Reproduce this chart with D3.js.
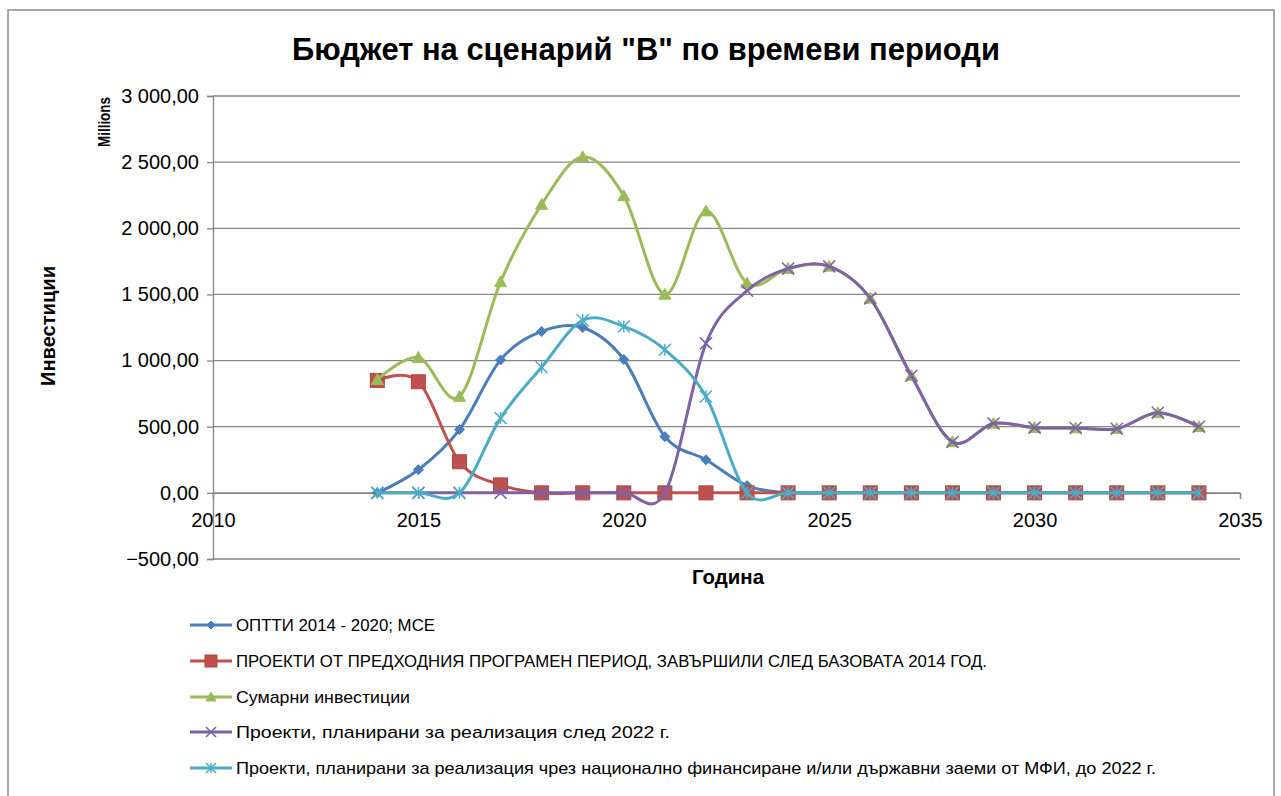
<!DOCTYPE html>
<html>
<head>
<meta charset="utf-8">
<script src="https://cdn.jsdelivr.net/npm/d3@7"></script>
<style>
  body { margin: 0; background: #fff; }
  svg text { font-family: "Liberation Sans", "DejaVu Sans", sans-serif; }
</style>
</head>
<body>
<div class="chart"></div>
<script>
// Data
var years = [2014, 2015, 2016, 2017, 2018, 2019, 2020, 2021, 2022, 2023, 2024, 2025, 2026, 2027, 2028, 2029, 2030, 2031, 2032, 2033, 2034];
var opttiValues   = [0, 175, 478, 1005, 1220, 1250, 1008, 425, 250, 55, 0, 0, 0, 0, 0, 0, 0, 0, 0, 0, 0];
var prevValues    = [850, 840, 235, 60, 0, 0, 0, 0, 0, 0, 0, 0, 0, 0, 0, 0, 0, 0, 0, 0, 0];
var totalValues   = [855, 1023, 728, 1595, 2180, 2540, 2245, 1500, 2130, 1585, 1695, 1712, 1470, 885, 385, 525, 493, 490, 485, 605, 500];
var after22Values = [0, 0, 0, 0, 0, 0, 0, 0, 1130, 1528, 1695, 1712, 1470, 885, 385, 525, 493, 490, 485, 605, 500];
var natValues     = [0, 0, 0, 565, 950, 1305, 1258, 1082, 728, 0, 0, 0, 0, 0, 0, 0, 0, 0, 0, 0, 0];
var seriesNames = [
  "ОПТТИ 2014 - 2020; МСЕ",
  "ПРОЕКТИ ОТ ПРЕДХОДНИЯ ПРОГРАМЕН ПЕРИОД, ЗАВЪРШИЛИ СЛЕД БАЗОВАТА 2014 ГОД.",
  "Сумарни инвестиции",
  "Проекти, планирани за реализация след 2022 г.",
  "Проекти, планирани за реализация чрез национално финансиране и/или държавни заеми от МФИ, до 2022 г."
];
var xTicks = [2010, 2015, 2020, 2025, 2030, 2035];
var yTicks = [-500, 0, 500, 1000, 1500, 2000, 2500, 3000];

var svgWidth = 1281;
var svgHeight = 796;

var svg = d3.select(".chart")
  .append("svg")
  .attr("width", svgWidth)
  .attr("height", svgHeight);

// chart frame
svg.append("rect")
  .attr("x", 8).attr("y", 10)
  .attr("width", 1266).attr("height", 800)
  .attr("fill", "#fff")
  .attr("stroke", "#8c8c8c")
  .attr("stroke-width", 1.5);

var xScale = d3.scaleLinear().domain([2010, 2035]).range([213, 1240]);
var yScale = d3.scaleLinear().domain([-500, 3000]).range([559, 96]);

// title
svg.append("text")
  .attr("x", 292).attr("y", 60)
  .attr("font-size", "31px")
  .attr("font-weight", "bold")
  .attr("textLength", 708)
  .attr("lengthAdjust", "spacingAndGlyphs")
  .text('Бюджет на сценарий "B" по времеви периоди');

// gridlines
svg.append("g")
  .selectAll("line")
  .data(yTicks)
  .enter()
  .append("line")
  .attr("x1", xScale(2010))
  .attr("x2", xScale(2035))
  .attr("y1", d => yScale(d))
  .attr("y2", d => yScale(d))
  .attr("stroke", "#868686")
  .attr("stroke-width", 1.3);

// y axis
var leftAxis = d3.axisLeft(yScale)
  .tickValues(yTicks)
  .tickSize(6)
  .tickPadding(8)
  .tickFormat(d => d3.format(",.2f")(d).replace(/,/g, " ").replace(".", ","));

var yAxisG = svg.append("g")
  .attr("transform", `translate(${xScale(2010)},0)`)
  .call(leftAxis);
yAxisG.select(".domain").attr("stroke", "#868686").attr("stroke-width", 1.3);
yAxisG.selectAll(".tick line").attr("stroke", "#868686").attr("stroke-width", 1.3);
yAxisG.selectAll("text")
  .attr("font-size", "20px")
  .attr("fill", "#000")
  .attr("font-family", "Liberation Sans, sans-serif");

// x axis on the zero line
var bottomAxis = d3.axisBottom(xScale)
  .tickValues(xTicks)
  .tickSize(6)
  .tickPadding(14)
  .tickFormat(d3.format("d"));

var xAxisG = svg.append("g")
  .attr("transform", `translate(0,${yScale(0)})`)
  .call(bottomAxis);
xAxisG.select(".domain").attr("stroke", "#868686").attr("stroke-width", 1.3);
xAxisG.selectAll(".tick line").attr("stroke", "#868686").attr("stroke-width", 1.3);
xAxisG.selectAll("text")
  .attr("font-size", "20px")
  .attr("fill", "#000")
  .attr("font-family", "Liberation Sans, sans-serif");

// axis titles
svg.append("text")
  .attr("transform", "translate(110,122) rotate(-90)")
  .attr("text-anchor", "middle")
  .attr("font-size", "17px")
  .attr("font-weight", "bold")
  .attr("textLength", 50)
  .attr("lengthAdjust", "spacingAndGlyphs")
  .text("Millions");

svg.append("text")
  .attr("transform", "translate(55,326) rotate(-90)")
  .attr("text-anchor", "middle")
  .attr("font-size", "20px")
  .attr("font-weight", "bold")
  .attr("textLength", 120)
  .attr("lengthAdjust", "spacingAndGlyphs")
  .text("Инвестиции");

svg.append("text")
  .attr("x", 728).attr("y", 584)
  .attr("text-anchor", "middle")
  .attr("font-size", "20px")
  .attr("font-weight", "bold")
  .attr("textLength", 72)
  .attr("lengthAdjust", "spacingAndGlyphs")
  .text("Година");

// series
var colors = ["#4a7ebb", "#c0504d", "#9bbb59", "#7f62a6", "#4bacc6"];
var allValues = [opttiValues, prevValues, totalValues, after22Values, natValues];
var markerTypes = ["diamond", "square", "triangle", "x", "star"];

var line = d3.line()
  .x(d => xScale(d.year))
  .y(d => yScale(d.value))
  .curve(d3.curveCardinal.tension(0));

function drawMarker(g, type, color, size) {
  var s = size;
  if (type === "diamond") {
    g.append("path").attr("d", `M0,${-s}L${s},0L0,${s}L${-s},0Z`).attr("fill", color).attr("stroke", color);
  } else if (type === "square") {
    g.append("rect").attr("x", -s).attr("y", -s).attr("width", 2 * s).attr("height", 2 * s)
      .attr("fill", color).attr("stroke", d3.color(color).darker(0.3)).attr("stroke-width", 1);
  } else if (type === "triangle") {
    g.append("path").attr("d", `M0,${-s}L${s},${s * 0.8}L${-s},${s * 0.8}Z`).attr("fill", color).attr("stroke", color);
  } else if (type === "x") {
    g.append("path").attr("d", `M${-s},${-s}L${s},${s}M${-s},${s}L${s},${-s}`).attr("stroke", color).attr("stroke-width", 1.5);
  } else if (type === "star") {
    g.append("path").attr("d", `M${-s},${-s}L${s},${s}M${-s},${s}L${s},${-s}M0,${-s}L0,${s}`).attr("stroke", color).attr("stroke-width", 1.5);
  }
}

var markerSizes = [5, 7, 6, 6, 6];

allValues.forEach(function(vals, i) {
  var data = years.map((y, j) => ({year: y, value: vals[j]}));
  var g = svg.append("g").attr("class", "series" + i);
  g.append("path")
    .datum(data)
    .attr("d", line)
    .attr("fill", "none")
    .attr("stroke", colors[i])
    .attr("stroke-width", 3);
  g.selectAll("g.mark")
    .data(data)
    .enter()
    .append("g")
    .attr("class", "mark")
    .attr("transform", d => `translate(${xScale(d.year)},${yScale(d.value)})`)
    .each(function() { drawMarker(d3.select(this), markerTypes[i], colors[i], markerSizes[i]); });
});

// legend
var legendY = [625, 661, 697, 732, 768];
var legendWidths = [199, 751, 174, 434, 920];
var legend = svg.append("g");
seriesNames.forEach(function(name, i) {
  var lg = legend.append("g").attr("transform", `translate(0,${legendY[i]})`);
  lg.append("line").attr("x1", 190).attr("x2", 232).attr("y1", 0).attr("y2", 0)
    .attr("stroke", colors[i]).attr("stroke-width", 3);
  var m = lg.append("g").attr("transform", "translate(211,0)");
  drawMarker(m, markerTypes[i], colors[i], markerSizes[i] - 1);
  lg.append("text")
    .attr("x", 236).attr("y", 6)
    .attr("font-size", "17px")
    .attr("textLength", legendWidths[i])
    .attr("lengthAdjust", "spacingAndGlyphs")
    .text(name);
});
</script>
</body>
</html>
